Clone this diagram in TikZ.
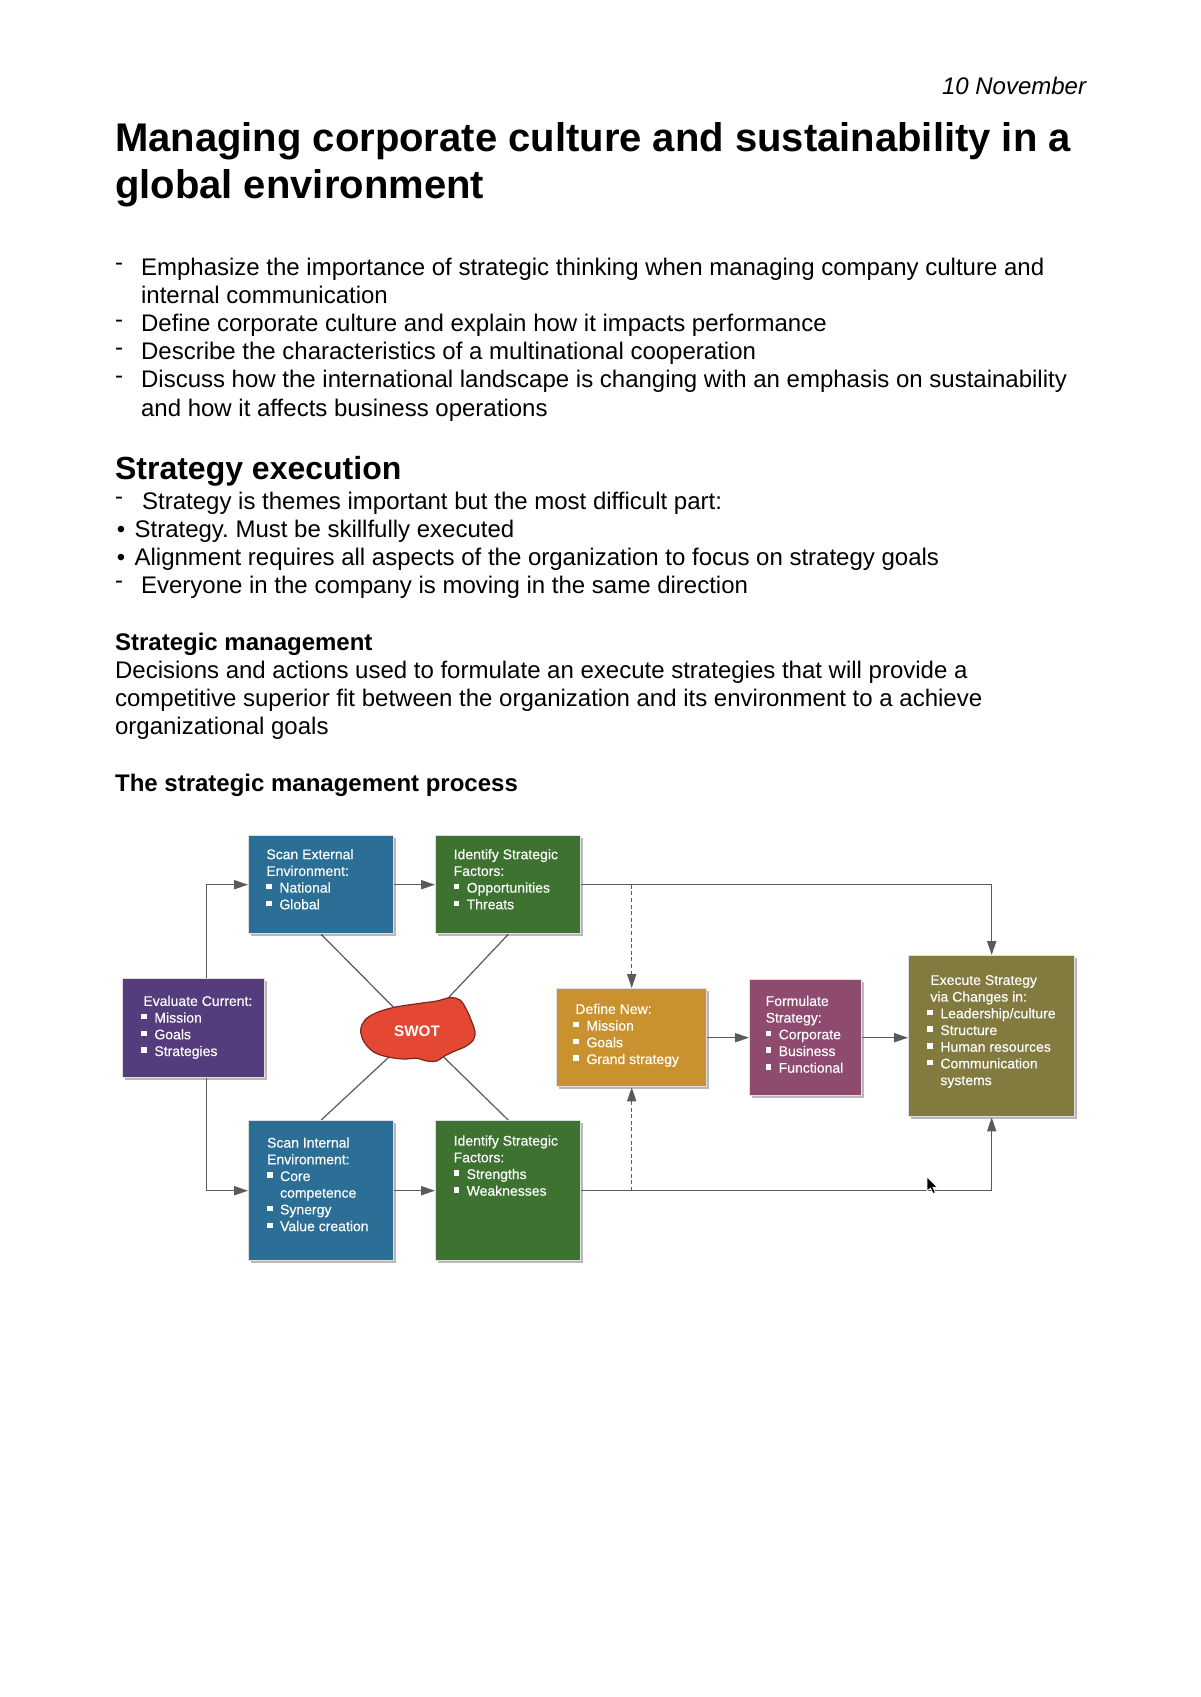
\documentclass[tikz,border=0pt]{standalone}
\usepackage{fontspec}
\setmainfont{Liberation Sans}
\newfontfamily\bxfam{Liberation Sans}[FakeBold=0.35]
\usetikzlibrary{arrows.meta,calc,shadows,shapes.geometric}
\pgfdeclarelayer{bg}
\pgfsetlayers{bg,main}
\definecolor{cblue}{RGB}{43,111,150}
\definecolor{cgreen}{RGB}{61,114,48}
\definecolor{cpurple}{RGB}{85,60,124}
\definecolor{cgold}{RGB}{201,146,46}
\definecolor{cmag}{RGB}{142,75,111}
\definecolor{colive}{RGB}{131,122,64}
\definecolor{cred}{RGB}{228,72,50}
\definecolor{credline}{RGB}{120,40,30}
\definecolor{cline}{RGB}{90,90,90}
\newcommand\bsq{\makebox[6.5pt][l]{\rule[1.6pt]{2.7pt}{2.7pt}}}
\newcommand\bind{\hspace*{6.5pt}}
\newcommand\bxfont{\bxfam\fontsize{7}{8.35}\selectfont}
\newcommand\bodyfont{\fontsize{12}{14}\selectfont}
\newcommand\rdash{\raisebox{0.18em}{-}}
\begin{document}
\begin{tikzpicture}[x=0.5pt,y=-0.5pt,
  txt/.style={anchor=base west,inner sep=0pt,font=\bodyfont},
  box/.style={rectangle,anchor=north west,inner sep=0pt,fill=#1,draw=white!88!black,line width=0.7pt,
    drop shadow={shadow xshift=1.2pt,shadow yshift=-1.2pt,fill=black,opacity=0.28}},
  bt/.style={anchor=north west,inner sep=0pt,align=left,text=white,font=\bxfont},
  conn/.style={draw=cline,line width=0.6pt,-{Triangle[length=7pt,width=4.6pt]}},
  dconn/.style={conn,dash pattern=on 2pt off 1.3pt},
  sline/.style={draw=cline,line width=0.6pt}]
\begin{pgfonlayer}{bg}
\useasboundingbox[fill=white] (0,0) rectangle (1200,1697);
\end{pgfonlayer}

% ---------- page text ----------
\node[anchor=base east,inner sep=0pt,font=\bodyfont\itshape] (date) at (1086.5,94) {10 November};
\node[txt,font=\fontsize{20}{23}\selectfont\bfseries] (t1) at (114.7,151.5) {Managing corporate culture and sustainability in a};
\node[txt,font=\fontsize{20}{23}\selectfont\bfseries] (t2) at (114.7,198) {global environment};

\node[txt] (d1) at (114.7,275.3) {\rdash};
\node[txt] (l1) at (140.7,275.3) {Emphasize the importance of strategic thinking when managing company culture and};
\node[txt] (l2) at (140.7,303.4) {internal communication};
\node[txt] (d3) at (114.7,331.5) {\rdash};
\node[txt] (l3) at (140.7,331.5) {Define corporate culture and explain how it impacts performance};
\node[txt] (d4) at (114.7,359.7) {\rdash};
\node[txt] (l4) at (140.7,359.7) {Describe the characteristics of a multinational cooperation};
\node[txt] (d5) at (114.7,387.8) {\rdash};
\node[txt] (l5) at (140.7,387.8) {Discuss how the international landscape is changing with an emphasis on sustainability};
\node[txt] (l6) at (140.7,416) {and how it affects business operations};

\node[txt,font=\fontsize{16}{19}\selectfont\bfseries] (h2) at (114.7,479.5) {Strategy execution};
\node[txt] (sd1) at (114.7,509) {\rdash};
\node[txt] (s1) at (141.8,509) {Strategy is themes important but the most difficult part:};
\node[txt] (sb2) at (116.5,537) {\textbullet};
\node[txt] (s2) at (134.2,537) {Strategy.\ Must be skillfully executed};
\node[txt] (sb3) at (116.5,565) {\textbullet};
\node[txt] (s3) at (134.2,565) {Alignment requires all aspects of the organization to focus on strategy goals};
\node[txt] (sd4) at (114.7,593) {\rdash};
\node[txt] (s4) at (140.7,593) {Everyone in the company is moving in the same direction};

\node[txt,font=\bodyfont\bfseries] (h3) at (114.7,650) {Strategic management};
\node[txt] (p1) at (114.7,678) {Decisions and actions used to formulate an execute strategies that will provide a};
\node[txt] (p2) at (114.7,706) {competitive superior fit between the organization and its environment to a achieve};
\node[txt] (p3) at (114.7,734) {organizational goals};
\node[txt,font=\bodyfont\bfseries] (h4) at (114.7,791.5) {The strategic management process};

% ---------- diagram boxes ----------
\node[box=cblue,minimum width=72.5pt,minimum height=49pt] (ext) at (248,835) {};
\node[box=cgreen,minimum width=72.5pt,minimum height=49pt] (opp) at (435,835) {};
\node[box=cpurple,minimum width=71pt,minimum height=49.5pt] (eval) at (122,978) {};
\node[box=cblue,minimum width=72.5pt,minimum height=70pt] (int) at (248,1120) {};
\node[box=cgreen,minimum width=72.5pt,minimum height=70pt] (str) at (435,1120) {};
\node[box=cgold,minimum width=75pt,minimum height=49pt] (def) at (556,988) {};
\node[box=cmag,minimum width=56pt,minimum height=58pt] (form) at (749,979) {};
\node[box=colive,minimum width=83pt,minimum height=80.5pt] (exe) at (908,955) {};

% box texts
\node[bt] (extT) at (266,847.1) {\strut Scan External\\Environment:\\\bsq National\\\bsq Global};
\node[bt] (oppT) at (453.3,847.1) {\strut Identify Strategic\\Factors:\\\bsq Opportunities\\\bsq Threats};
\node[bt] (evalT) at (141,993.8) {\strut\hspace*{1pt}Evaluate Current:\\\bsq Mission\\\bsq Goals\\\bsq Strategies};
\node[bt] (intT) at (266.7,1135.5) {\strut Scan Internal\\Environment:\\\bsq Core\\\bind competence\\\bsq Synergy\\\bsq Value creation};
\node[bt] (strT) at (453.3,1133.5) {\strut Identify Strategic\\Factors:\\\bsq Strengths\\\bsq Weaknesses};
\node[bt] (defT) at (573,1001.8) {\strut\hspace*{1pt}Define New:\\\bsq Mission\\\bsq Goals\\\bsq Grand strategy};
\node[bt] (formT) at (765.3,993.8) {\strut Formulate\\Strategy:\\\bsq Corporate\\\bsq Business\\\bsq Functional};
\node[bt] (exeT) at (927,972.8) {\strut\hspace*{1.5pt}Execute Strategy\\\hspace*{1.5pt}via Changes in:\\\bsq Leadership/culture\\\bsq Structure\\\bsq Human resources\\\bsq Communication\\\bind systems};

% SWOT blob
\fill[cred,draw=credline,line width=0.6pt] plot[smooth cycle,tension=0.6] coordinates {
 (360.7,1030) (365,1020) (375,1013.3) (390,1008.3) (403.3,1005.7) (420,1003.3) (436.7,1001)
 (450,997.7) (460,1000) (466.7,1010) (471.7,1021.7) (475,1031.7) (473.3,1040) (465,1046.7)
 (453.3,1051.7) (443.3,1056.7) (436.7,1061) (426.7,1061) (416.7,1058.3) (403.3,1059)
 (386.7,1056.7) (373.3,1051.7) (364,1041.7)};
\node[ellipse,inner sep=0pt,minimum width=56pt,minimum height=28pt,text=white,
  font=\fontsize{7.6}{9}\selectfont\bfseries] (swot) at (417,1031) {SWOT};

% ---------- connectors ----------
\begin{pgfonlayer}{bg}
\draw[sline] (ext.south) -- (swot.center);
\draw[sline] (opp.south) -- (swot.center);
\draw[sline] (int.north) -- (swot.center);
\draw[sline] (str.north) -- (swot.center);
\end{pgfonlayer}

\draw[conn] ($(eval.north)+(13,0)$) |- (ext.west);
\draw[conn] ($(eval.south)+(13,0)$) |- (int.west);
\draw[conn] (ext.east) -- (opp.west);
\draw[conn] (int.east) -- (str.west);
\draw[conn] (opp.east) -| (exe.north);
\draw[conn] (str.east) -| (exe.south);
\draw[dconn] (opp.east -| def.north) -- (def.north);
\draw[dconn] (str.east -| def.south) -- (def.south);
\draw[conn] (def.east) -- (def.east -| form.west);
\draw[conn] (form.east) -- (form.east -| exe.west);

% mouse pointer
\fill[black,draw=white,line width=0.3pt] (927,1177) -- (927,1191) -- (930.5,1188) -- (933,1193.5)
  -- (935.3,1192.5) -- (932.8,1187.2) -- (937,1187) -- cycle;
\end{tikzpicture}
\end{document}
